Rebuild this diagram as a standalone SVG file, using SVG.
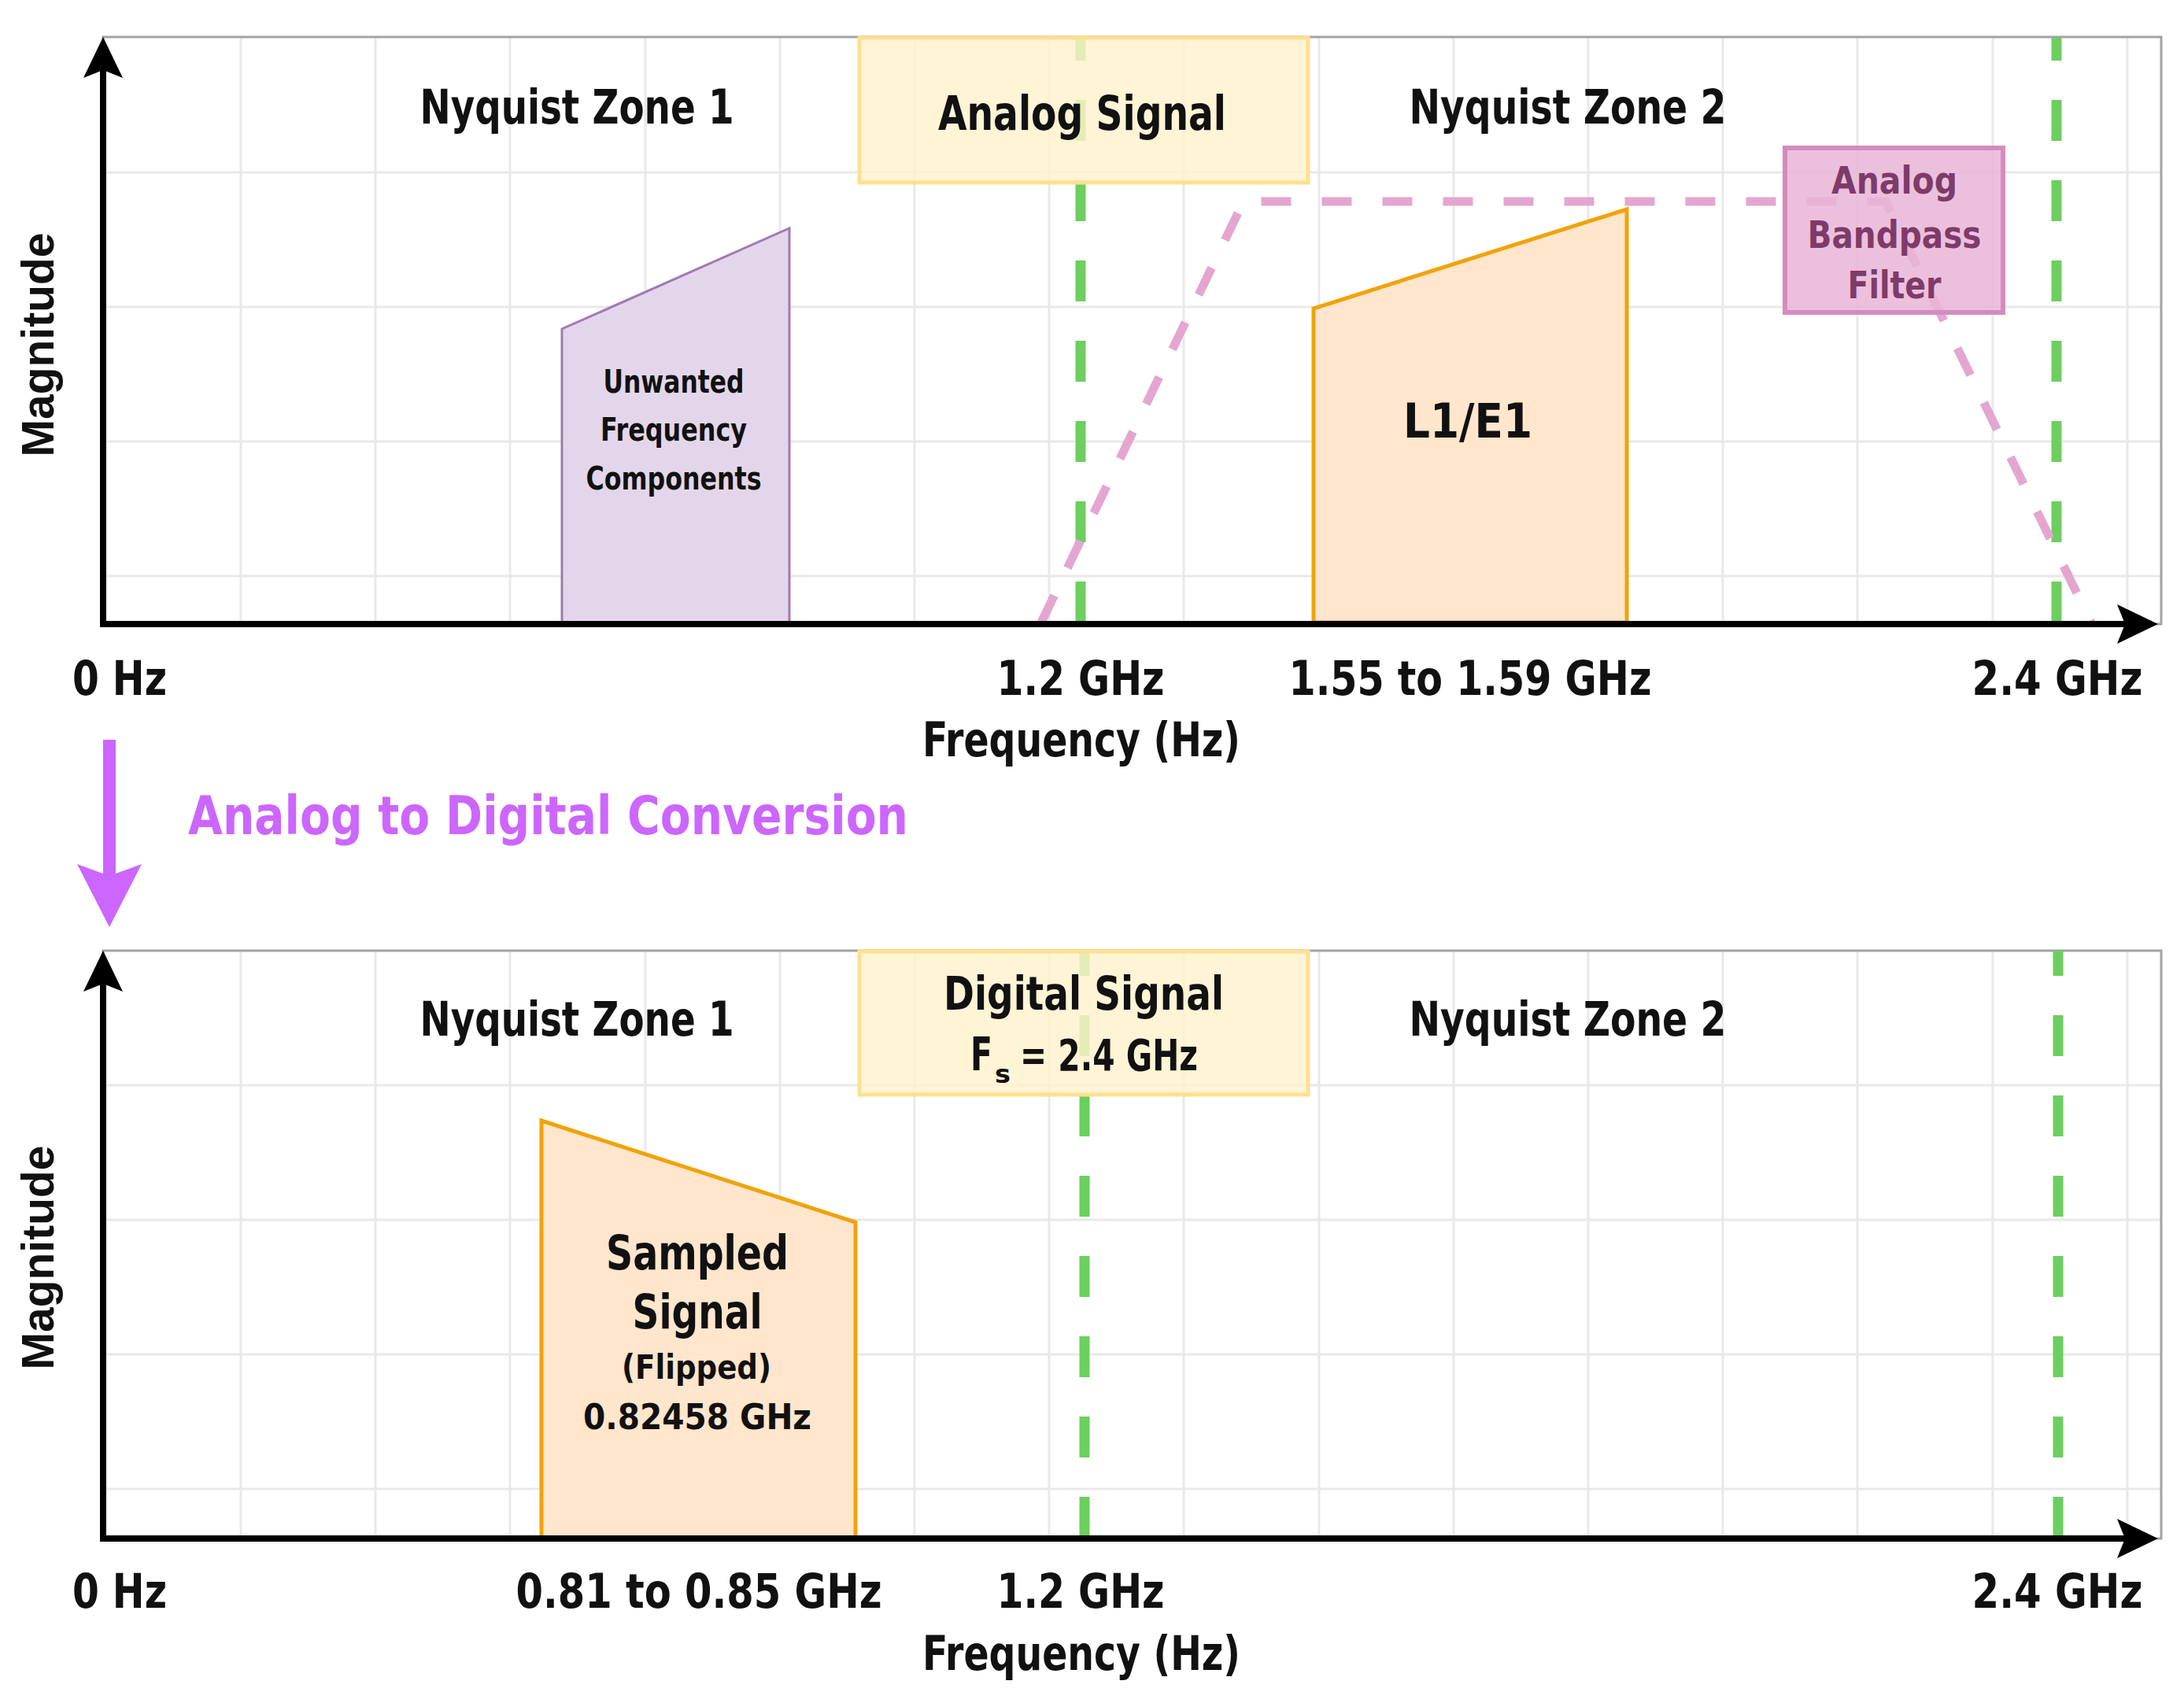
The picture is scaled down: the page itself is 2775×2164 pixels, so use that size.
<svg xmlns="http://www.w3.org/2000/svg" width="2775" height="2164" viewBox="0 0 2775 2164">
<style>
.t{font-family:'DejaVu Sans Condensed','DejaVu Sans',sans-serif;font-stretch:condensed;font-weight:bold;fill:#111;text-anchor:middle;font-size:60px}
.mag{font-family:'Liberation Sans',Arial,sans-serif;font-weight:bold;fill:#111;text-anchor:middle;font-size:57px}
.grid{stroke:#e9e9e9;stroke-width:3;fill:none}
.frame{stroke:#a3a3a3;stroke-width:3;fill:none}
.green{stroke:#6ccf60;stroke-width:13;stroke-dasharray:52 50;fill:none}
.pink{stroke:#e4a6d0;stroke-width:11;stroke-dasharray:38 39;fill:none}
.axis{stroke:#000;stroke-width:8;fill:none}
.ybox{fill:#fff2cc;fill-opacity:0.82;stroke:#ffe08f;stroke-width:5}
.orange{fill:#ffe6cc;stroke:#f0a30a;stroke-width:5}
.purple{fill:#e4d6ea;stroke:#a07ab2;stroke-width:3}
.fb{fill:#7e3b69;font-size:48px}
</style>
<defs>
<marker id="ax" markerUnits="userSpaceOnUse" markerWidth="54" markerHeight="52" refX="12" refY="25" orient="auto">
<path d="M0,0 L52,25 L0,50 L10,25 Z" fill="#000"/>
</marker>
<marker id="pa" markerUnits="userSpaceOnUse" markerWidth="82" markerHeight="84" refX="17" refY="41" orient="auto">
<path d="M0,0 L80,41 L0,82 L15,41 Z" fill="#cc66ff"/>
</marker>
</defs>
<rect width="2775" height="2164" fill="#fff"/>

<g id="top-chart-grid">
<path class="grid" d="M306 48V791M477 48V791M648 48V791M820 48V791M991 48V791M1162 48V791M1333 48V791M1504 48V791M1676 48V791M1847 48V791M2018 48V791M2189 48V791M2360 48V791M2532 48V791M2703 48V791M131 219H2746M131 390H2746M131 561H2746M131 732H2746"/>
<rect class="frame" x="131" y="47" width="2615" height="746"/>
</g>
<g id="bottom-chart-grid">
<path class="grid" d="M306 1208V1954M477 1208V1954M648 1208V1954M820 1208V1954M991 1208V1954M1162 1208V1954M1333 1208V1954M1504 1208V1954M1676 1208V1954M1847 1208V1954M2018 1208V1954M2189 1208V1954M2360 1208V1954M2532 1208V1954M2703 1208V1954M131 1379H2746M131 1550H2746M131 1721H2746M131 1892H2746"/>
<rect class="frame" x="131" y="1208" width="2615" height="747"/>
</g>

<g id="nyquist-lines">
<path class="green" d="M1373 791V48"/>
<path class="green" d="M2613 791V48"/>
<path class="green" d="M1378 1954V1208"/>
<path class="green" d="M2615 1954V1208"/>
</g>

<g id="bandpass-response">
<path class="pink" d="M1323 791L1580 256L2396 256L2657 791"/>
</g>

<g id="unwanted-components">
<polygon class="purple" points="714,791 714,418 1003,290 1003,791"/>
<text class="t" x="856" y="499" style="font-size:40px" textLength="179" lengthAdjust="spacingAndGlyphs">Unwanted</text>
<text class="t" x="856" y="560" style="font-size:40px" textLength="186" lengthAdjust="spacingAndGlyphs">Frequency</text>
<text class="t" x="856" y="622" style="font-size:40px" textLength="223" lengthAdjust="spacingAndGlyphs">Components</text>
</g>

<g id="l1e1-signal">
<polygon class="orange" points="1669,791 1669,392 2067,266 2067,791"/>
<text class="t" x="1865" y="556" textLength="164" lengthAdjust="spacingAndGlyphs">L1/E1</text>
</g>

<g id="analog-signal-box">
<rect class="ybox" x="1092" y="48" width="570" height="184"/>
<text class="t" x="1375" y="165" textLength="366" lengthAdjust="spacingAndGlyphs">Analog Signal</text>
</g>

<g id="bandpass-filter-box">
<rect x="2268" y="188" width="277" height="209" fill="#e9b5d6" fill-opacity="0.85" stroke="#d48cbd" stroke-width="6"/>
<text class="t fb" x="2407" y="246" textLength="160" lengthAdjust="spacingAndGlyphs">Analog</text>
<text class="t fb" x="2407" y="315" textLength="221" lengthAdjust="spacingAndGlyphs">Bandpass</text>
<text class="t fb" x="2407" y="379" textLength="119" lengthAdjust="spacingAndGlyphs">Filter</text>
</g>

<g id="sampled-signal">
<polygon class="orange" points="688,1954 688,1424 1087,1553 1087,1954"/>
<text class="t" x="886" y="1613" textLength="232" lengthAdjust="spacingAndGlyphs">Sampled</text>
<text class="t" x="886" y="1688" textLength="165" lengthAdjust="spacingAndGlyphs">Signal</text>
<text class="t" x="885" y="1752" style="font-size:43px" textLength="190" lengthAdjust="spacingAndGlyphs">(Flipped)</text>
<text class="t" x="886" y="1816" style="font-size:45px" textLength="290" lengthAdjust="spacingAndGlyphs">0.82458 GHz</text>
</g>

<g id="digital-signal-box">
<rect class="ybox" x="1092" y="1209" width="570" height="182"/>
<text class="t" x="1377" y="1283" style="font-size:58px" textLength="356" lengthAdjust="spacingAndGlyphs">Digital Signal</text>
<text class="t" x="1233" y="1360" style="text-anchor:start;font-size:58px" textLength="28" lengthAdjust="spacingAndGlyphs">F</text>
<text class="t" x="1264" y="1376" style="text-anchor:start;font-size:32px" textLength="20" lengthAdjust="spacingAndGlyphs">s</text>
<text class="t" x="1296" y="1360" style="text-anchor:start;font-size:56px" textLength="226" lengthAdjust="spacingAndGlyphs">= 2.4 GHz</text>
</g>

<g id="axes">
<line class="axis" x1="131" y1="797" x2="131" y2="87" marker-end="url(#ax)"/>
<line class="axis" x1="127" y1="793" x2="2702" y2="793" marker-end="url(#ax)"/>
<line class="axis" x1="131" y1="1959" x2="131" y2="1248" marker-end="url(#ax)"/>
<line class="axis" x1="127" y1="1955" x2="2702" y2="1955" marker-end="url(#ax)"/>
</g>

<g id="top-labels">
<text class="t" x="733" y="157" textLength="399" lengthAdjust="spacingAndGlyphs">Nyquist Zone 1</text>
<text class="t" x="1992" y="157" textLength="403" lengthAdjust="spacingAndGlyphs">Nyquist Zone 2</text>
<text class="t" x="152" y="883" textLength="120" lengthAdjust="spacingAndGlyphs">0 Hz</text>
<text class="t" x="1373" y="883" textLength="213" lengthAdjust="spacingAndGlyphs">1.2 GHz</text>
<text class="t" x="1868" y="883" textLength="461" lengthAdjust="spacingAndGlyphs">1.55 to 1.59 GHz</text>
<text class="t" x="2614" y="883" textLength="217" lengthAdjust="spacingAndGlyphs">2.4 GHz</text>
<text class="t" x="1374" y="961" textLength="404" lengthAdjust="spacingAndGlyphs">Frequency (Hz)</text>
<text class="mag" transform="translate(68 438) rotate(-90)" textLength="285" lengthAdjust="spacingAndGlyphs">Magnitude</text>
</g>

<g id="bottom-labels">
<text class="t" x="733" y="1316" textLength="399" lengthAdjust="spacingAndGlyphs">Nyquist Zone 1</text>
<text class="t" x="1992" y="1316" textLength="403" lengthAdjust="spacingAndGlyphs">Nyquist Zone 2</text>
<text class="t" x="152" y="2043" textLength="120" lengthAdjust="spacingAndGlyphs">0 Hz</text>
<text class="t" x="888" y="2043" textLength="465" lengthAdjust="spacingAndGlyphs">0.81 to 0.85 GHz</text>
<text class="t" x="1373" y="2043" textLength="213" lengthAdjust="spacingAndGlyphs">1.2 GHz</text>
<text class="t" x="2614" y="2043" textLength="217" lengthAdjust="spacingAndGlyphs">2.4 GHz</text>
<text class="t" x="1374" y="2122" textLength="404" lengthAdjust="spacingAndGlyphs">Frequency (Hz)</text>
<text class="mag" transform="translate(68 1598) rotate(-90)" textLength="285" lengthAdjust="spacingAndGlyphs">Magnitude</text>
</g>

<g id="connectors">
<line x1="139" y1="940" x2="139" y2="1115" stroke="#cc66ff" stroke-width="16" marker-end="url(#pa)"/>
</g>
<g id="conversion-label">
<text class="t" x="239" y="1060" style="text-anchor:start;font-size:68px;fill:#cc66ff" textLength="915" lengthAdjust="spacingAndGlyphs">Analog to Digital Conversion</text>
</g>
</svg>
